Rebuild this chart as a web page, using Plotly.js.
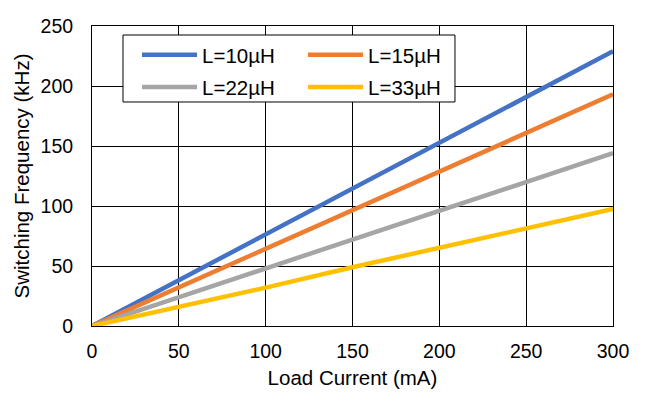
<!DOCTYPE html>
<html>
<head>
<meta charset="utf-8">
<script src="https://cdn.plot.ly/plotly-3.0.1.min.js"></script>
<style>html,body{margin:0;padding:0;background:#fff;}#chart{width:645px;height:394px;}</style>
</head>
<body>
<div id="chart"></div>
<script>
const loadCurrent = [0, 50, 100, 150, 200, 250, 300];
const seriesNames = ['L=10µH', 'L=15µH', 'L=22µH', 'L=33µH'];
const freqL10 = [0, 38, 76, 114, 152, 191, 229];
const freqL15 = [0, 32, 64, 96, 128, 161, 193];
const freqL22 = [0, 24, 48, 72, 96, 120, 144];
const freqL33 = [0, 16, 32, 49, 65, 81, 97.5];
const seriesColors = ['#4472C4', '#ED7D31', '#A5A5A5', '#FFC000'];
const legendRows = ['legend', 'legend', 'legend2', 'legend2'];
const xTicks = [0, 50, 100, 150, 200, 250, 300];
const yTicks = [0, 50, 100, 150, 200, 250];

const allY = [freqL10, freqL15, freqL22, freqL33];
const traces = allY.map((y, i) => ({
  x: loadCurrent, y: y, name: seriesNames[i], type: 'scatter', mode: 'lines',
  legend: legendRows[i],
  line: {color: seriesColors[i], width: 4.5}
}));

const font = 'Arial, "Liberation Sans", sans-serif';
const legendBase = {
  orientation: 'h', xanchor: 'left', yanchor: 'top',
  borderwidth: 0, bgcolor: 'rgba(0,0,0,0)',
  entrywidth: 96, entrywidthmode: 'pixels', itemwidth: 55,
  font: {family: font, size: 20.5, color: '#000'}
};
const layout = {
  width: 645, height: 394,
  margin: {l: 92, r: 32, t: 26, b: 68},
  paper_bgcolor: '#fff', plot_bgcolor: '#fff',
  font: {family: font, size: 20.5, color: '#000'},
  showlegend: true,
  legend: Object.assign({}, legendBase, {x: 0.0864, y: 0.970}),
  legend2: Object.assign({}, legendBase, {x: 0.0864, y: 0.863}),
  shapes: [{
    type: 'rect', xref: 'paper', yref: 'paper', layer: 'above',
    x0: 0.0595, x1: 0.6967, y0: 0.7467, y1: 0.97,
    fillcolor: '#fff', line: {color: '#000', width: 1}
  }],
  xaxis: {
    range: [0, 300], tickvals: xTicks, ticktext: xTicks.map(String),
    showgrid: true, gridcolor: '#000', gridwidth: 1,
    showline: true, linecolor: '#000', linewidth: 1, mirror: true,
    zeroline: false, ticks: 'outside', ticklen: 8, tickcolor: 'rgba(0,0,0,0)',
    tickfont: {size: 19.5},
    title: {text: 'Load Current (mA)', font: {size: 20.5}, standoff: 9}
  },
  yaxis: {
    range: [0, 250], tickvals: yTicks, ticktext: yTicks.map(String),
    showgrid: true, gridcolor: '#000', gridwidth: 1,
    showline: true, linecolor: '#000', linewidth: 1, mirror: true,
    zeroline: false, ticks: 'outside', ticklen: 14, tickcolor: 'rgba(0,0,0,0)',
    tickfont: {size: 19.5},
    title: {text: 'Switching Frequency (kHz)', font: {size: 20.5}, standoff: 5}
  }
};
Plotly.newPlot('chart', traces, layout, {displayModeBar: false, staticPlot: true});
</script>
</body>
</html>
